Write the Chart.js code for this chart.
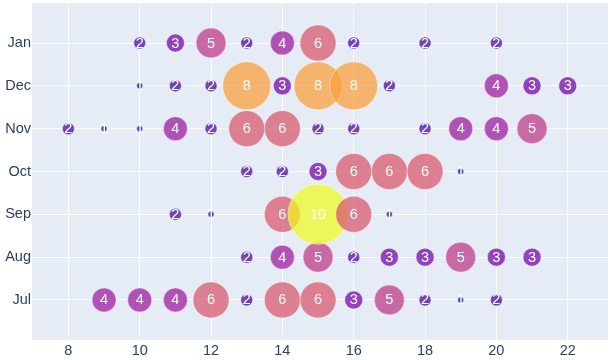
<!DOCTYPE html>
<html>
<head>
<meta charset="utf-8">
<script src="https://cdn.jsdelivr.net/npm/chart.js@4"></script>
<style>
  html, body { margin: 0; padding: 0; background: #fff; }
  #wrap { width: 611px; height: 360px; position: relative; }
</style>
</head>
<body>
<div id="wrap"><canvas id="myChart"></canvas></div>
<script>
// months, bottom to top
const months = ["Jul", "Aug", "Sep", "Oct", "Nov", "Dec", "Jan"];

const julX = [9, 10, 11, 12, 13, 14, 15, 16, 17, 18, 19, 20];
const julV = [4, 4, 4, 6, 2, 6, 6, 3, 5, 2, 1, 2];
const augX = [13, 14, 15, 16, 17, 18, 19, 20, 21];
const augV = [2, 4, 5, 2, 3, 3, 5, 3, 3];
const sepX = [11, 12, 14, 15, 16, 17];
const sepV = [2, 1, 6, 10, 6, 1];
const octX = [13, 14, 15, 16, 17, 18, 19];
const octV = [2, 2, 3, 6, 6, 6, 1];
const novX = [8, 9, 10, 11, 12, 13, 14, 15, 16, 18, 19, 20, 21];
const novV = [2, 1, 1, 4, 2, 6, 6, 2, 2, 2, 4, 4, 5];
const decX = [10, 11, 12, 13, 14, 15, 16, 17, 20, 21, 22];
const decV = [1, 2, 2, 8, 3, 8, 8, 2, 4, 3, 3];
const janX = [10, 11, 12, 13, 14, 15, 16, 18, 20];
const janV = [2, 3, 5, 2, 4, 6, 2, 2, 2];

const xTicks = [8, 10, 12, 14, 16, 18, 20, 22];

const plasma = ["#0d0887", "#46039f", "#7201a8", "#9c179e", "#bd3786",
  "#d8576b", "#ed7953", "#fb9f3a", "#fdca26", "#f0f921"];

const rows = [
  [julX, julV], [augX, augV], [sepX, sepV], [octX, octV],
  [novX, novV], [decX, decV], [janX, janV]
];

let points = [];
rows.forEach((row, i) => {
  row[0].forEach((x, j) => {
    points.push({ x: x, y: i, r: row[1][j] * 3, v: row[1][j] });
  });
});

function hexA(hex, a) {
  const n = parseInt(hex.slice(1), 16);
  return `rgba(${(n >> 16) & 255}, ${(n >> 8) & 255}, ${n & 255}, ${a})`;
}

const plotBg = {
  id: "plotBg",
  beforeDraw(chart) {
    const { ctx, chartArea } = chart;
    ctx.save();
    ctx.fillStyle = "#E5ECF6";
    ctx.fillRect(chartArea.left, chartArea.top, chartArea.width, chartArea.height);
    ctx.restore();
  }
};

const fontFamily = '"Liberation Sans", Arial, sans-serif';

const bubbleText = {
  id: "bubbleText",
  afterDatasetsDraw(chart) {
    const ctx = chart.ctx;
    const meta = chart.getDatasetMeta(0);
    ctx.save();
    ctx.fillStyle = "#ffffff";
    ctx.font = "14.5px " + fontFamily;
    ctx.textAlign = "center";
    ctx.textBaseline = "middle";
    meta.data.forEach((el, i) => {
      ctx.fillText(String(points[i].v), el.x, el.y + 0.5);
    });
    ctx.restore();
  }
};

const tickFont = { family: fontFamily, size: 14.5 };

function noPad(s) {
  s.paddingTop = 0;
  s.paddingBottom = 0;
  s.paddingLeft = 0;
  s.paddingRight = 0;
}

new Chart("myChart", {
  type: "bubble",
  data: {
    datasets: [{
      data: points,
      backgroundColor: (c) => hexA(plasma[c.raw.v - 1], 0.73),
      borderColor: "rgba(255, 255, 255, 0.6)",
      borderWidth: 0.7,
      clip: false
    }]
  },
  plugins: [plotBg, bubbleText],
  options: {
    responsive: true,
    maintainAspectRatio: false,
    animation: false,
    events: [],
    layout: { autoPadding: false, padding: { top: 3, right: 3, left: 0, bottom: 0 } },
    plugins: { legend: { display: false }, tooltip: { enabled: false } },
    scales: {
      x: {
        type: "linear",
        min: 6.98,
        max: 23.13,
        afterBuildTicks: (s) => { s.ticks = xTicks.map((v) => ({ value: v })); },
        afterFit: (s) => { s.height = 20; noPad(s); },
        grid: { color: "#ffffff", lineWidth: 1, drawTicks: false },
        border: { display: false },
        ticks: { color: "#2a3f5f", font: tickFont, padding: 2 }
      },
      y: {
        type: "linear",
        min: -0.934,
        max: 6.934,
        afterBuildTicks: (s) => { s.ticks = months.map((m, i) => ({ value: i })); },
        afterFit: (s) => { s.width = 32; noPad(s); },
        grid: { color: "#ffffff", lineWidth: 1, drawTicks: false },
        border: { display: false },
        ticks: {
          color: "#2a3f5f",
          font: tickFont,
          padding: 1,
          callback: (v) => months[v]
        }
      }
    }
  }
});
</script>
</body>
</html>
